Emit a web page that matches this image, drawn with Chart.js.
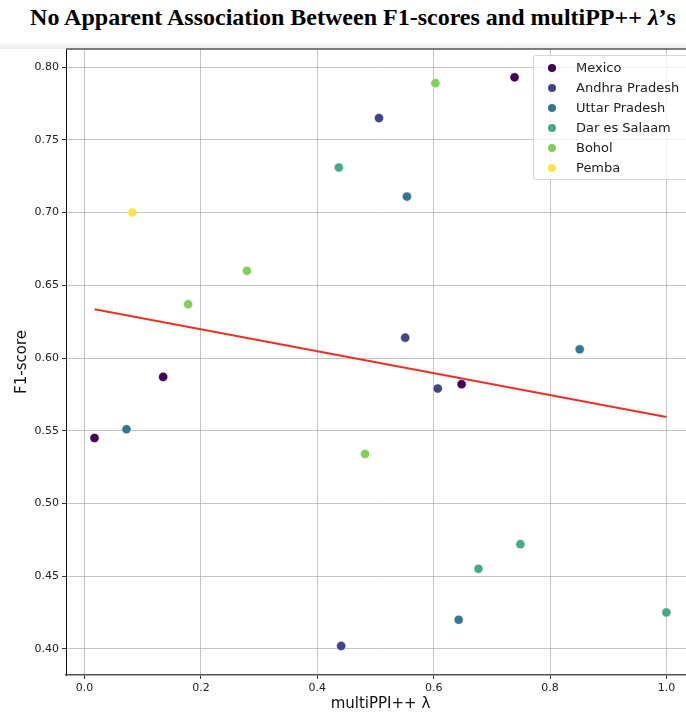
<!DOCTYPE html>
<html>
<head>
<meta charset="utf-8">
<script src="https://cdn.jsdelivr.net/npm/chart.js@4.4.0/dist/chart.umd.min.js"></script>
<style>
  html, body { margin: 0; padding: 0; background: #fff; overflow: hidden; width: 686px; height: 712px; }
  #title {
    position: absolute; left: 0; top: 5px; width: 706px; text-align: center;
    font-family: "Liberation Serif", "Times New Roman", serif; font-weight: bold;
    font-size: 24px; line-height: 1; color: #000; white-space: nowrap;
  }
  #shade { position: absolute; left: 0; top: 41px; width: 686px; height: 8px;
    background: linear-gradient(to bottom, #ffffff, #ececec); }
  #wrap { position: absolute; left: 0; top: 0; width: 700px; height: 712px; }
  #legend {
    position: absolute; left: 533px; top: 55px; width: 170px; height: 123px;
    border: 1px solid #d8d8d8; border-radius: 3px; background: rgba(255,255,255,0.8);
    font-family: "DejaVu Sans", sans-serif; font-size: 13px; color: #222;
  }
  .row { position: absolute; left: 0; height: 20px; line-height: 20px; white-space: nowrap; }
  .dot { position: absolute; left: 14px; top: 6px; width: 8px; height: 8px; border-radius: 50%; }
  .lab { position: absolute; left: 42px; top: 0; }
</style>
</head>
<body>
<div id="title">No Apparent Association Between F1-scores and multiPP++ <i>λ</i>’s</div>
<div id="shade"></div>
<div id="wrap"><canvas id="chart" width="700" height="712"></canvas></div>
<div id="legend"></div>
<script>
// regions and their points (x = multiPPI++ lambda, y = F1-score)
const regions = ['Mexico', 'Andhra Pradesh', 'Uttar Pradesh', 'Dar es Salaam', 'Bohol', 'Pemba'];
const colors = ['#440154', '#414487', '#33788f', '#46a98a', '#84cf5a', '#fbe44a'];

const mexicoX = [0.017, 0.135, 0.648, 0.739];
const mexicoY = [0.545, 0.587, 0.582, 0.793];
const andhraX = [0.441, 0.506, 0.551, 0.607];
const andhraY = [0.402, 0.765, 0.614, 0.579];
const uttarX = [0.072, 0.554, 0.643, 0.851];
const uttarY = [0.551, 0.711, 0.420, 0.606];
const darX = [0.437, 0.677, 0.749, 1.000];
const darY = [0.731, 0.455, 0.472, 0.425];
const boholX = [0.178, 0.279, 0.482, 0.603];
const boholY = [0.637, 0.660, 0.534, 0.789];
const pembaX = [0.082];
const pembaY = [0.700];

// fitted line end points
const fitX = [0.017, 1.0];
const fitY = [0.6336, 0.5595];

const xTicks = [0.0, 0.2, 0.4, 0.6, 0.8, 1.0];
const yTicks = [0.40, 0.45, 0.50, 0.55, 0.60, 0.65, 0.70, 0.75, 0.80];

const seriesX = [mexicoX, andhraX, uttarX, darX, boholX, pembaX];
const seriesY = [mexicoY, andhraY, uttarY, darY, boholY, pembaY];

const toPts = (xs, ys) => xs.map((x, i) => ({ x: x, y: ys[i] }));

const datasets = regions.map((name, i) => ({
  type: 'scatter',
  label: name,
  data: toPts(seriesX[i], seriesY[i]),
  backgroundColor: colors[i],
  borderColor: '#ffffff',
  borderWidth: 0.5,
  pointRadius: 4.6,
  order: 1
}));
datasets.push({
  type: 'line',
  label: 'fit',
  data: toPts(fitX, fitY),
  borderColor: '#ee3124',
  borderWidth: 2,
  pointRadius: 0,
  fill: false,
  order: 2
});

// linea superior del marco
const topBorder = {
  id: 'topBorder',
  afterDraw(chart) {
    const a = chart.chartArea;
    const ctx = chart.ctx;
    ctx.save();
    ctx.strokeStyle = '#555';
    ctx.lineWidth = 1.5;
    ctx.beginPath();
    ctx.moveTo(a.left, a.top);
    ctx.lineTo(a.right + 10, a.top);
    ctx.stroke();
    ctx.restore();
  }
};

const tickFont = { family: 'DejaVu Sans', size: 11 };
const titleFont = { family: 'DejaVu Sans', size: 15, lineHeight: 1 };

new Chart(document.getElementById('chart'), {
  data: { datasets: datasets },
  options: {
    responsive: false,
    animation: false,
    layout: { padding: { top: 49, left: 0, right: 5, bottom: 0 } },
    plugins: { legend: { display: false }, tooltip: { enabled: false } },
    scales: {
      x: {
        type: 'linear',
        min: -0.032,
        max: 1.049,
        afterBuildTicks: (s) => { s.ticks = xTicks.map(v => ({ value: v })); },
        afterFit: (s) => { s.height = 37; },
        ticks: { font: tickFont, color: '#222', padding: 3, maxRotation: 0,
          callback: (v) => Number(v).toFixed(1) },
        grid: { color: 'rgba(176,176,176,0.75)', lineWidth: 1, tickLength: 4, tickColor: '#333' },
        border: { color: '#555', width: 1.5 },
        title: { display: true, text: 'multiPPI++ λ', font: titleFont, color: '#111', padding: 0 }
      },
      y: {
        type: 'linear',
        min: 0.382,
        max: 0.8125,
        afterBuildTicks: (s) => { s.ticks = yTicks.map(v => ({ value: v })); },
        afterFit: (s) => { s.width = 66; },
        ticks: { font: tickFont, color: '#222', padding: 3,
          callback: (v) => Number(v).toFixed(2) },
        grid: { color: 'rgba(176,176,176,0.75)', lineWidth: 1, tickLength: 4, tickColor: '#333' },
        border: { color: '#111', width: 1 },
        title: { display: true, text: 'F1-score', font: titleFont, color: '#111', padding: { top: 15, bottom: 0 } }
      }
    }
  },
  plugins: [topBorder]
});

// leyenda
const legendEl = document.getElementById('legend');
regions.forEach((name, i) => {
  const row = document.createElement('div');
  row.className = 'row';
  row.style.top = (2 + i * 20) + 'px';
  row.innerHTML = `<span class="dot" style="background:${colors[i]}"></span><span class="lab">${name}</span>`;
  legendEl.appendChild(row);
});
</script>
</body>
</html>
